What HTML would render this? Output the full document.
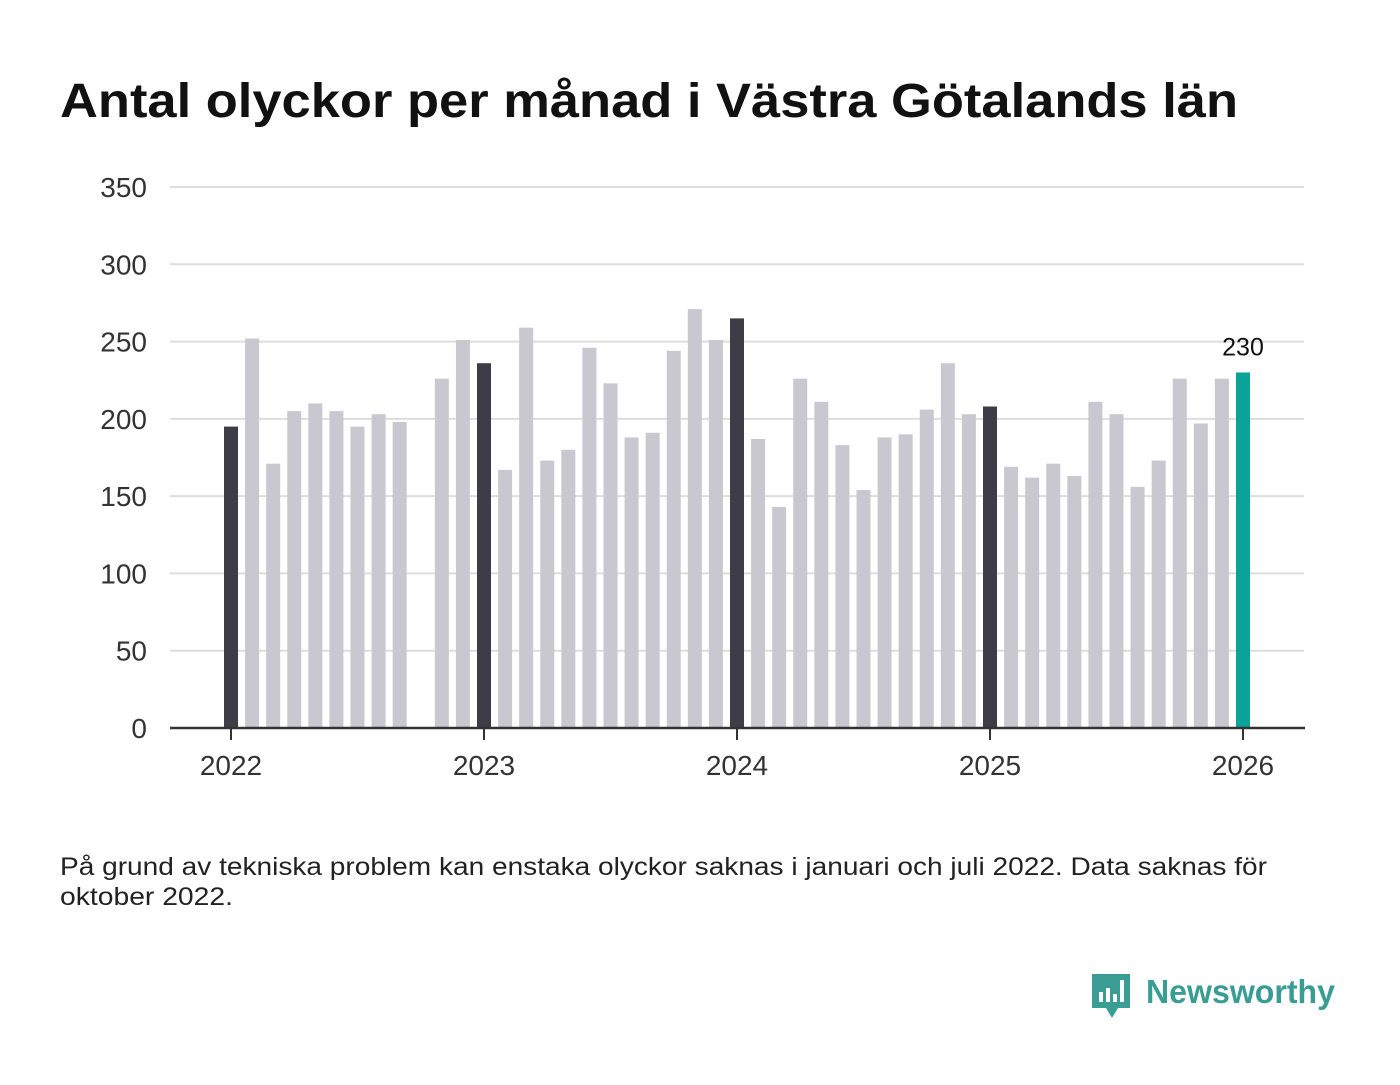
<!DOCTYPE html>
<html><head><meta charset="utf-8"><style>
body{margin:0;background:#fff;width:1400px;height:1080px;overflow:hidden;font-family:"Liberation Sans",sans-serif}
</style></head><body>
<svg width="1400" height="1080">
<text x="60" y="117" font-size="48" font-weight="bold" fill="#111" textLength="1178" lengthAdjust="spacingAndGlyphs">Antal olyckor per månad i Västra Götalands län</text>
<g id="grid"></g><g id="bars"></g><g id="axis"></g>
<text x="60" y="875" font-size="25" fill="#222" textLength="1207" lengthAdjust="spacingAndGlyphs">På grund av tekniska problem kan enstaka olyckor saknas i januari och juli 2022. Data saknas för</text>
<text x="60" y="905" font-size="25" fill="#222" textLength="173" lengthAdjust="spacingAndGlyphs">oktober 2022.</text>
<g>
<path d="M1092 974 h38 v34 h-12 l-6 10 l-6 -10 h-14 z" fill="#3a9d93"/>
<rect x="1099" y="992" width="4" height="10" fill="#fff"/><rect x="1106" y="988" width="4" height="14" fill="#fff"/><rect x="1113" y="994" width="4" height="8" fill="#fff"/><rect x="1120" y="980" width="4" height="22" fill="#fff"/>
<text x="1146" y="1003" font-size="33" font-weight="bold" fill="#3a9d93" textLength="189" lengthAdjust="spacingAndGlyphs">Newsworthy</text>
</g>
</svg>
<script>
const values=[195,252,171,205,210,205,195,203,198,null,226,251,
236,167,259,173,180,246,223,188,191,244,271,251,
265,187,143,226,211,183,154,188,190,206,236,203,
208,169,162,171,163,211,203,156,173,226,197,226,230];
const yTicks=[0,50,100,150,200,250,300,350];
const xYears=[2022,2023,2024,2025,2026];
const NS="http://www.w3.org/2000/svg";
const y=v=>728-v*(541/350);
const x=i=>231+i*(253/12);
function mk(t,a,p){const e=document.createElementNS(NS,t);for(const k in a)e.setAttribute(k,a[k]);p.appendChild(e);return e;}
const grid=document.getElementById('grid'),bars=document.getElementById('bars'),axis=document.getElementById('axis');
yTicks.forEach(t=>{
 if(t>0){const l=mk('line',{x1:170,x2:1304,y1:y(t),y2:y(t),stroke:'#ddd','stroke-width':2},grid);
 
 }
 const tx=mk('text',{x:147,y:y(t)+10,'font-size':28,fill:'#333','text-anchor':'end'},grid);tx.textContent=t;
 
 
});
values.forEach((v,i)=>{
 if(v==null)return;
 const last=i===values.length-1, jan=i%12===0;
 const r=mk('rect',{x:x(i)-7,y:y(v),width:14,height:728-y(v),fill:last?'#0aa39a':jan?'#3d3c47':'#c9c8d0'},bars);
 
 
 if(last){const t=mk('text',{x:x(i),y:y(v)-17,'font-size':25,fill:'#111','text-anchor':'middle'},bars);t.textContent=v;
 
 }
});
const ax=mk('line',{x1:170,x2:1305,y1:728,y2:728,stroke:'#333','stroke-width':2.5},axis);


xYears.forEach((yr,k)=>{
 const px=x(k*12);
 mk('line',{x1:px,x2:px,y1:728,y2:740,stroke:'#333','stroke-width':2},axis);
 const t=mk('text',{x:px,y:775,'font-size':28,fill:'#333','text-anchor':'middle'},axis);t.textContent=yr;
 
 
});
</script>
</body></html>
